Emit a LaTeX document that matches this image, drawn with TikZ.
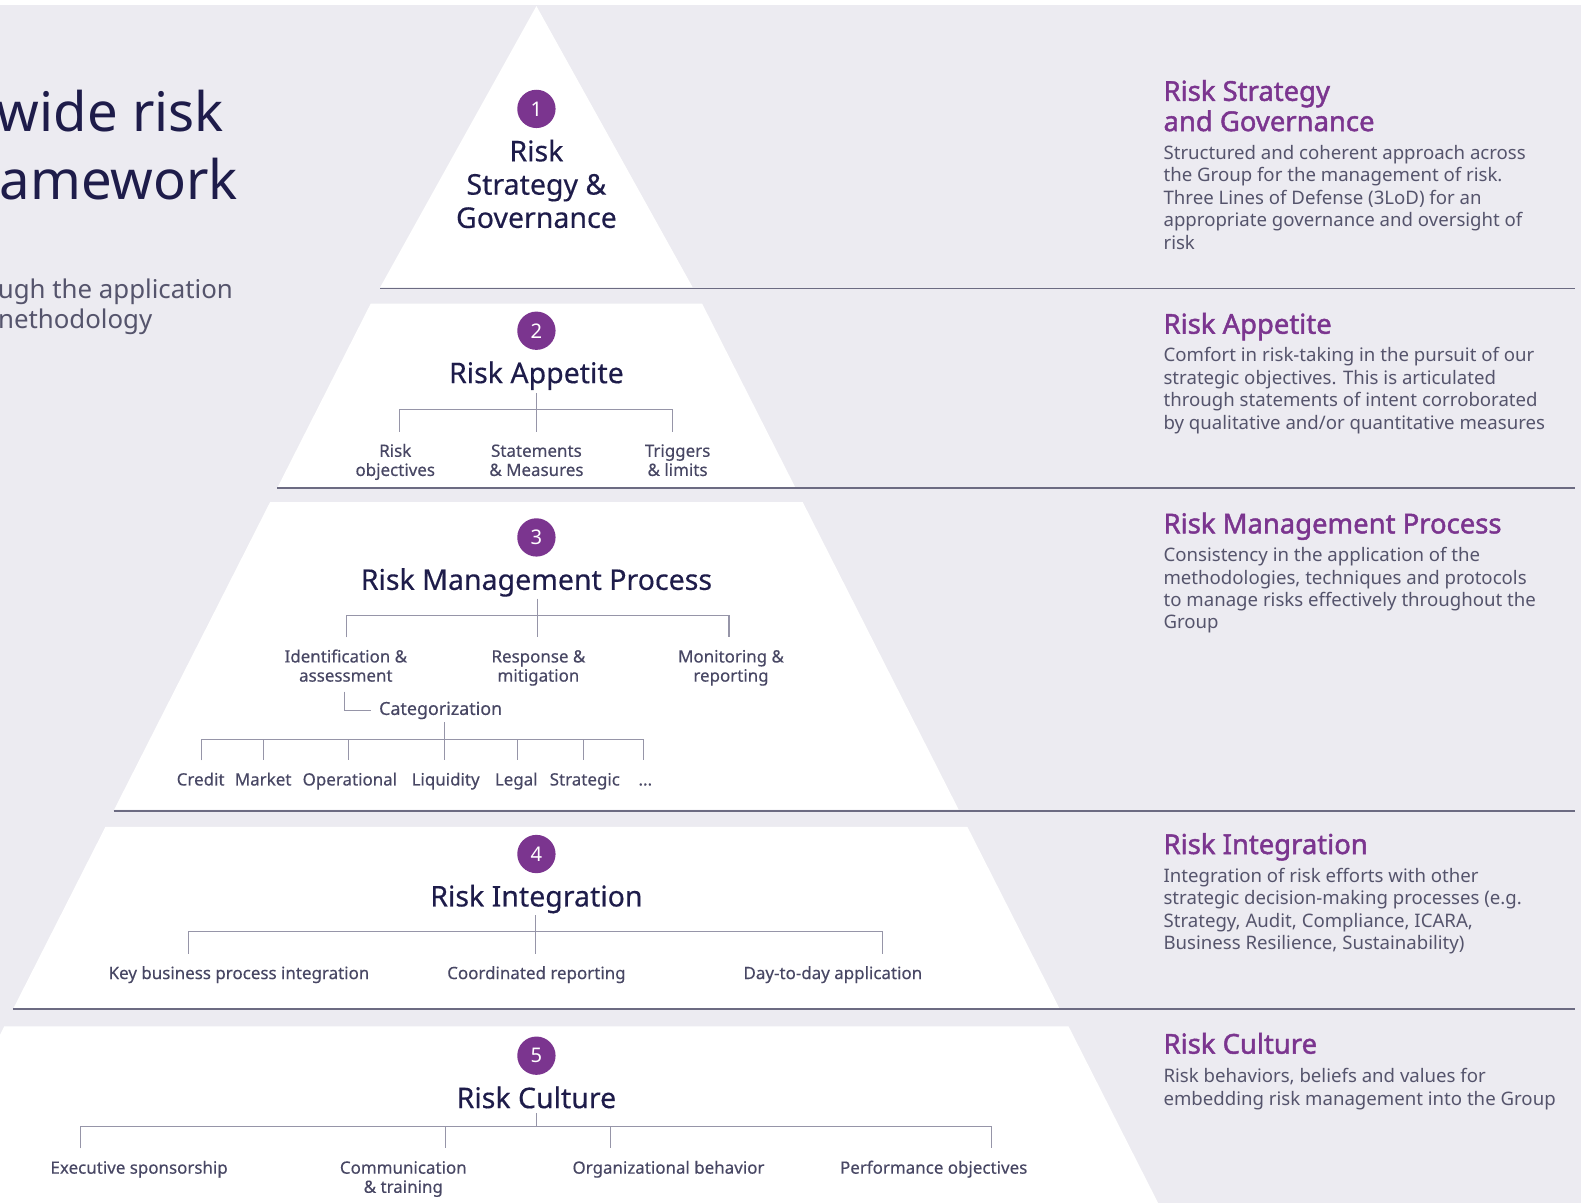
\documentclass[tikz,border=0pt]{standalone}
\usepackage{fontspec}
\setmainfont{Noto Sans}[AutoFakeBold=1.6]
\newfontfamily\medfont{Noto Sans}[FakeBold=0.35]
\definecolor{bggray}{RGB}{236,235,241}
\definecolor{navy}{RGB}{30,28,74}
\definecolor{labgray}{RGB}{72,71,100}
\definecolor{bodygray}{RGB}{85,84,108}
\definecolor{plum}{RGB}{123,53,143}
\definecolor{rulegray}{RGB}{108,107,130}
\definecolor{twiggray}{RGB}{150,149,168}
\newcommand\stackc[1]{\begin{tabular}[t]{@{}c@{}}#1\end{tabular}}
\newcommand\stackl[1]{\begin{tabular}[t]{@{}l@{}}#1\end{tabular}}
% white band of the pyramid between two heights (sides meet at (532,-23))
\newcommand\pyrband[2]{\fill[white] ({532-0.507*(#1+23)},#1) -- ({532+0.507*(#1+23)},#1) -- ({532+0.507*(#2+23)},#2) -- ({532-0.507*(#2+23)},#2) -- cycle;}
\newcommand\pyrrule[1]{\draw[sepline] ({532-0.507*(#1+23)},#1) -- (1562,#1);}
\begin{document}
\begin{tikzpicture}[x=0.75pt,y=-0.75pt,
  every node/.style={inner sep=0pt,outer sep=0pt},
  sepline/.style={draw=rulegray,line width=1.3pt},
  twig/.style={draw=twiggray,line width=0.75pt},
  numdot/.style={circle,fill=plum,text=white,minimum size=28.5pt,font=\fontsize{15}{15}\selectfont},
  tiertitle/.style={text=navy,font=\medfont\fontsize{21.2}{24.75}\selectfont,anchor=base},
  sublabel/.style={text=labgray,font=\medfont\fontsize{12.6}{14.25}\selectfont,anchor=base},
  bigtitle/.style={text=navy,font=\fontsize{40.5}{52}\selectfont,anchor=base east},
  subtitle/.style={text=bodygray,font=\fontsize{19.2}{22.5}\selectfont,anchor=base east},
  rhead/.style={text=plum,font=\bfseries\fontsize{20.4}{22.5}\selectfont,anchor=base west},
  rbody/.style={text=bodygray,font=\fontsize{13.85}{16.7}\selectfont,anchor=base west}
]
\useasboundingbox (0,0) rectangle (1568,1193);
\clip (0,0) rectangle (1568,1193);
\fill[white] (0,0) rectangle (1568,5);
\fill[bggray] (0,5) rectangle (1568,1193);

% pyramid tiers
\fill[white] (532,6) -- (687,285) -- (377,285) -- cycle;
\pyrband{301}{483}
\pyrband{498}{803}
\pyrband{820}{1000}
\pyrband{1018}{1200}
\draw[sepline] (377,286) -- (1562,286);
\pyrrule{484}
\pyrrule{804}
\pyrrule{1001}

% heading on the left
\node[bigtitle] (hd1) at (222,130) {wide risk};
\node[bigtitle] (hd2) at (236,198) {amework};
\node[subtitle] (sb1) at (231,296) {ugh the application};
\node[subtitle] (sb2) at (151,326) {nethodology};

% tier 1
\node[numdot] (n1) at (532,108) {1};
\node[tiertitle] (t1) at (532,160) {\stackc{Risk\\Strategy \&\\Governance}};

% tier 2
\node[numdot] (n2) at (532,328) {2};
\node[tiertitle] (t2) at (532,380) {Risk Appetite};
\node[sublabel] (a21) at (392,453) {\stackc{Risk\\objectives}};
\node[sublabel] (a22) at (532,453) {\stackc{Statements\\\& Measures}};
\node[sublabel] (a23) at (672,453) {\stackc{Triggers\\\& limits}};
\coordinate (j2) at (532,406);
\coordinate (e21) at (396,428);
\coordinate (e22) at (532,428);
\coordinate (e23) at (667,428);
\draw[twig] (t2.south) ++(0,3) -- (e22);
\draw[twig] (e21) -- (e21 |- j2) -- (e23 |- j2) -- (e23);

% tier 3
\node[numdot] (n3) at (532,533) {3};
\node[tiertitle] (t3) at (532,585) {Risk Management Process};
\node[sublabel] (b31) at (343,657) {\stackc{Identification \&\\assessment}};
\node[sublabel] (b32) at (534,657) {\stackc{Response \&\\mitigation}};
\node[sublabel] (b33) at (725,657) {\stackc{Monitoring \&\\reporting}};
\coordinate (j3) at (533,610);
\coordinate (e31) at (344,632);
\coordinate (e32) at (533,632);
\coordinate (e33) at (723,632);
\draw[twig] (t3.south) ++(1,2) -- (e32);
\draw[twig] (e31) -- (e31 |- j3) -- (e33 |- j3) -- (e33);
\node[sublabel,font=\medfont\fontsize{13.3}{15}\selectfont,anchor=base west] (cat) at (376,709) {Categorization};
\coordinate (e3c) at (342,686);
\draw[twig] (e3c) -- (e3c |- cat.west) -- ([xshift=-6pt]cat.west);
\coordinate (jc) at (441,733);
\coordinate (ec) at (441,754);
\draw[twig] (cat.south -| jc) ++(0,3) -- (ec);
\node[sublabel] (c1) at (199,779) {Credit};
\node[sublabel] (c2) at (261,779) {Market};
\node[sublabel] (c3) at (347,779) {Operational};
\node[sublabel] (c4) at (442,779) {Liquidity};
\node[sublabel] (c5) at (512,779) {Legal};
\node[sublabel] (c6) at (580,779) {Strategic};
\node[sublabel] (c7) at (640,779) {...};
\coordinate (f1) at (200,754);
\coordinate (f2) at (261,754);
\coordinate (f3) at (346,754);
\coordinate (f5) at (513,754);
\coordinate (f6) at (579,754);
\coordinate (f7) at (638,754);
\draw[twig] (f1) -- (f1 |- jc) -- (f7 |- jc) -- (f7);
\foreach \f in {f2,f3,f5,f6} \draw[twig] (\f |- jc) -- (\f);

% tier 4
\node[numdot] (n4) at (532,847) {4};
\node[tiertitle] (t4) at (532,899) {Risk Integration};
\node[sublabel] (d41) at (237,971) {Key business process integration};
\node[sublabel] (d42) at (532,971) {Coordinated reporting};
\node[sublabel] (d43) at (826,971) {Day-to-day application};
\coordinate (j4) at (531,924);
\coordinate (e41) at (187,946);
\coordinate (e42) at (531,946);
\coordinate (e43) at (875,946);
\draw[twig] (t4.south -| j4) ++(0,2) -- (e42);
\draw[twig] (e41) -- (e41 |- j4) -- (e43 |- j4) -- (e43);

% tier 5
\node[numdot] (n5) at (532,1047) {5};
\node[tiertitle] (t5) at (532,1099) {Risk Culture};
\node[sublabel] (g51) at (138,1164) {Executive sponsorship};
\node[sublabel] (g52) at (400,1164) {\stackc{Communication\\\& training}};
\node[sublabel] (g53) at (663,1164) {Organizational behavior};
\node[sublabel] (g54) at (926,1164) {Performance objectives};
\coordinate (j5) at (532,1117);
\coordinate (e51) at (80,1139);
\coordinate (e52) at (442,1139);
\coordinate (e53) at (605,1139);
\coordinate (e54) at (983,1139);
\draw[twig] (t5.south) ++(0,5) -- (j5);
\draw[twig] (e51) -- (e51 |- j5) -- (e54 |- j5) -- (e54);
\foreach \e in {e52,e53} \draw[twig] (\e |- j5) -- (\e);

% descriptions on the right
\node[rhead] (h1) at (1154,100) {\stackl{Risk Strategy\\and Governance}};
\node[rbody] (p1) at (1154,158) {\stackl{Structured and coherent approach across\\the Group for the management of risk.\\Three Lines of Defense (3LoD) for an\\appropriate governance and oversight of\\risk}};
\node[rhead] (h2) at (1154,331) {Risk Appetite};
\node[rbody] (p2) at (1154,359) {\stackl{Comfort in risk-taking in the pursuit of our\\strategic objectives. This is articulated\\through statements of intent corroborated\\by qualitative and/or quantitative measures}};
\node[rhead] (h3) at (1154,529) {Risk Management Process};
\node[rbody] (p3) at (1154,557) {\stackl{Consistency in the application of the\\methodologies, techniques and protocols\\to manage risks effectively throughout the\\Group}};
\node[rhead] (h4) at (1154,847) {Risk Integration};
\node[rbody] (p4) at (1154,875) {\stackl{Integration of risk efforts with other\\strategic decision-making processes (e.g.\\Strategy, Audit, Compliance, ICARA,\\Business Resilience, Sustainability)}};
\node[rhead] (h5) at (1154,1045) {Risk Culture};
\node[rbody] (p5) at (1154,1074) {\stackl{Risk behaviors, beliefs and values for\\embedding risk management into the Group}};
\end{tikzpicture}
\end{document}
